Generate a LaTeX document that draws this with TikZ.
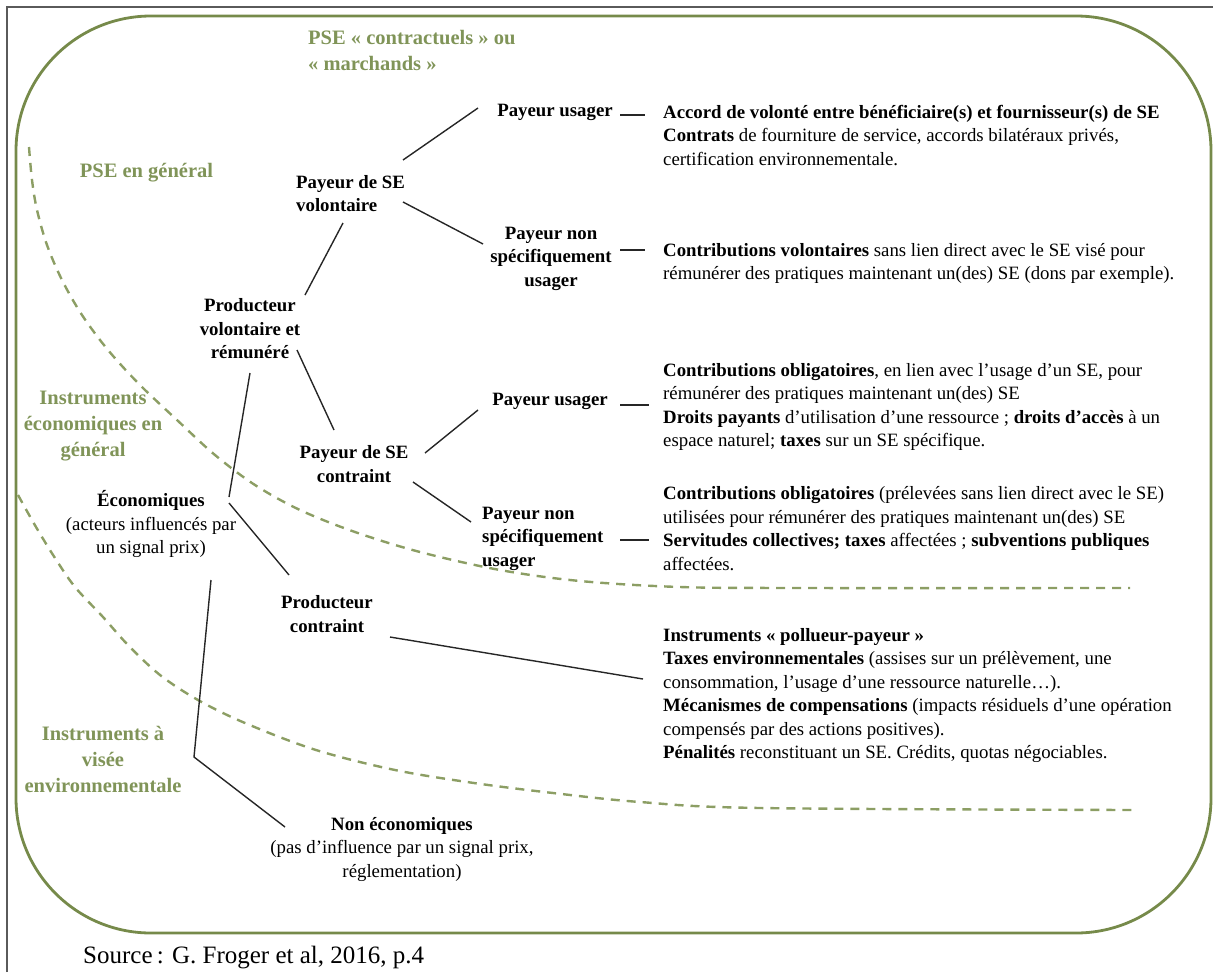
\documentclass[tikz,border=0pt]{standalone}
\usepackage{fontspec}
\setmainfont{Liberation Serif}
\usetikzlibrary{calc}
\definecolor{grtext}{RGB}{128,148,88}
\definecolor{grborder}{RGB}{118,138,74}
\definecolor{grdash}{RGB}{140,158,100}
\definecolor{framegray}{RGB}{90,90,90}
\tikzset{
  bnode/.style={inner sep=0pt, font=\bfseries\fontsize{18.8}{23.5}\selectfont, align=center},
  bnodel/.style={bnode, align=left, anchor=west},
  rnode/.style={inner sep=0pt, font=\fontsize{18.8}{23.5}\selectfont, align=center},
  txtblock/.style={inner sep=0pt, font=\fontsize{18.8}{23.5}\selectfont, align=left, anchor=west},
  glabel/.style={inner sep=0pt, text=grtext, font=\bfseries\fontsize{20.5}{26}\selectfont, align=center},
  conn/.style={line width=1.4pt, black!85},
  zone/.style={grdash, line width=2.4pt, dash pattern=on 9pt off 7pt},
}
\begin{document}
\begin{tikzpicture}[x=1pt,y=-1pt]
\useasboundingbox (0,0) rectangle (1220,972);
% outer frame
\draw[framegray, line width=1.4pt] (7,972) -- (7,7) -- (1213,7);
% green rounded border
\draw[grborder, line width=2.8pt, rounded corners=135pt] (16,16) rectangle (1211,933);
% dashed zones
\draw[zone] plot[smooth, tension=0.55] coordinates {(29,147) (32,180) (37,210) (47,245) (62,280) (82,315) (108,350) (140,385) (177,420) (215,455) (255,485) (300,510) (355,532) (420,552) (500,570) (580,581) (680,587) (800,588) (1130,588)};
\draw[zone] plot[smooth, tension=0.55] coordinates {(18,495) (36,527) (55,558) (75,587) (103,617) (128,645) (160,675) (198,700) (245,723) (316,750) (395,770) (474,783) (553,793) (640,802) (760,808) (1134,810)};

% green labels
\node[glabel, anchor=west, align=left] (g1) at (308,50) {PSE «~contractuels~» ou\\«~marchands~»};
\node[glabel] (g2) at (146.5,173) {PSE en général};
\node[glabel] (g3) at (93,426) {Instruments\\économiques en\\général};
\node[glabel] (g4) at (103,759) {Instruments à\\visée\\environnementale};

% tree nodes
\node[bnode] (pu1) at (555,112) {Payeur usager};
\node[bnodel] (vol) at (296,193.5) {Payeur de SE\\volontaire};
\node[bnode] (pn1) at (551,258.5) {Payeur non\\spécifiquement\\usager};
\node[bnode] (pvr) at (250,329) {Producteur\\volontaire et\\rémunéré};
\node[bnode] (pu2) at (550,401) {Payeur usager};
\node[bnode] (con) at (354,464) {Payeur de SE\\contraint};
\node[bnodel] (pn2) at (482,538.5) {Payeur non\\spécifiquement\\usager};
\node[rnode] (eco) at (151,524) {\textbf{Économiques}\\(acteurs influencés par\\un signal prix)};
\node[bnode] (pc) at (327,614) {Producteur\\contraint};
\node[rnode] (neco) at (402,849) {\textbf{Non économiques}\\(pas d’influence par un signal prix,\\réglementation)};
\coordinate (root) at (194,757);

% text blocks
\node[txtblock] (B1) at (663,135.5) {\textbf{Accord de volonté entre bénéficiaire(s) et fournisseur(s) de SE}\\
\textbf{Contrats} de fourniture de service, accords bilatéraux privés,\\
certification environnementale.};
\node[txtblock] (B2) at (663,263.5) {\textbf{Contributions volontaires} sans lien direct avec le SE visé pour\\
rémunérer des pratiques maintenant un(des) SE (dons par exemple).};
\node[txtblock] (B3) at (663,407) {\textbf{Contributions obligatoires}, en lien avec l’usage d’un SE, pour\\
rémunérer des pratiques maintenant un(des) SE\\
\textbf{Droits payants} d’utilisation d’une ressource ; \textbf{droits d’accès} à un\\
espace naturel; \textbf{taxes} sur un SE spécifique.};
\node[txtblock] (B4) at (663,528.5) {\textbf{Contributions obligatoires} (prélevées sans lien direct avec le SE)\\
utilisées pour rémunérer des pratiques maintenant un(des) SE\\
\textbf{Servitudes collectives; taxes} affectées ; \textbf{subventions publiques}\\
affectées.};
\node[txtblock] (B5) at (663,695.5) {\textbf{Instruments «~pollueur-payeur~»}\\
\textbf{Taxes environnementales} (assises sur un prélèvement, une\\
consommation, l’usage d’une ressource naturelle…).\\
\textbf{Mécanismes de compensations} (impacts résiduels d’une opération\\
compensés par des actions positives).\\
\textbf{Pénalités} reconstituant un SE. Crédits, quotas négociables.};

% source
\node[inner sep=0pt, anchor=west, font=\fontsize{25}{30}\selectfont] (src) at (83,958) {Source\,: G. Froger et al, 2016, p.4};

% connectors
\draw[conn] ($(vol.west)+(107,-33.5)$) -- ($(pu1)+(-77,-4)$);
\draw[conn] ($(vol.west)+(107,8.5)$) -- ($(pn1)+(-68,-14.5)$);
\draw[conn] ($(pvr)+(55,-34)$) -- ($(vol.west)+(47,29.5)$);
\draw[conn] ($(pvr)+(47,21)$) -- ($(con)+(-20,-34)$);
\draw[conn] ($(pvr)+(0,44)$) -- ($(eco)+(78,-27)$);
\draw[conn] ($(con)+(71,-11)$) -- ($(pu2)+(-72,9)$);
\draw[conn] ($(con)+(59,18)$) -- ($(pn2.west)+(-11,-16.5)$);
\draw[conn] ($(eco)+(78,-21)$) -- ($(pc)+(-38,-39)$);
\draw[conn] ($(eco)+(60,56)$) -- (root) -- ($(neco)+(-117,-22)$);
\draw[conn] ($(pc)+(63,23)$) -- ($(B5.west)+(-20,-16.5)$);
\draw[conn] ($(pu1)+(65,3)$) -- ($(B1.west)+(-18,-20.5)$);
\draw[conn] ($(pn1)+(69,-8.5)$) -- ($(B2.west)+(-18,-13.5)$);
\draw[conn] ($(pu2)+(70,4)$) -- ($(B3.west)+(-14,-2)$);
\draw[conn] ($(pn2.west)+(138,1.5)$) -- ($(B4.west)+(-14,11.5)$);
\end{tikzpicture}
\end{document}
